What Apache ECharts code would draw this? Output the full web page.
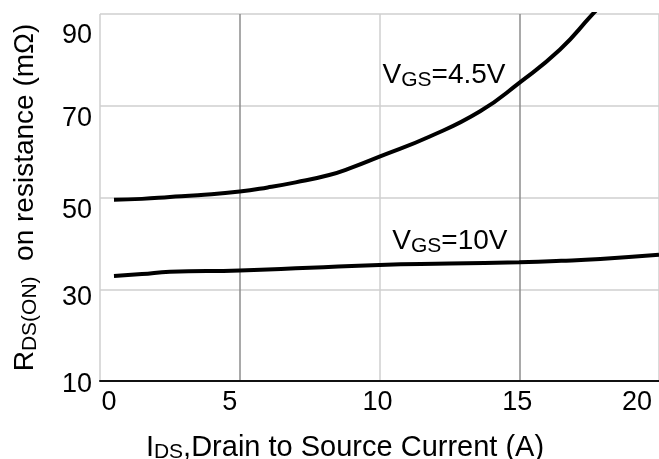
<!DOCTYPE html>
<html><head><meta charset="utf-8">
<script src="https://cdn.jsdelivr.net/npm/echarts@6/dist/echarts.min.js"></script>
<style>html,body{margin:0;padding:0;background:#fff}#c{width:659px;height:459px}</style>
</head><body><div id="c"></div>
<script>
// ---- data ----
const xTicks = [0, 5, 10, 15, 20];
const yTicks = [10, 30, 50, 70, 90];
const vgs45X = [0.5, 1.5, 2.5, 3.5, 5.0, 6.0, 7.0, 8.2, 9.0, 10.0, 11.8, 13.6, 15.0, 16.45, 17.6, 18.1];
const vgs45Y = [49.5, 49.7, 50.1, 50.5, 51.3, 52.2, 53.3, 54.9, 56.5, 58.9, 63.3, 68.8, 75.0, 82.2, 89.8, 93.0];
const vgs10X = [0.5, 1.5, 2.5, 5.0, 7.5, 10.0, 12.5, 15.0, 16.5, 17.9, 20.0];
const vgs10Y = [32.9, 33.3, 33.8, 34.1, 34.7, 35.3, 35.6, 35.9, 36.2, 36.6, 37.5];
const seriesNames = ['=4.5V', '=10V'];
const labelPos45 = [12.31, 76.7];
const labelPos10 = [12.52, 40.5];

// ---- styling ----
const FONT = '"Liberation Sans", Arial, Helvetica, sans-serif';
const yLabelPad = {10: 8, 30: 17, 50: 26, 70: 26, 90: 44};
const xLabelPad = {0: [0, 0, 0, 18], 5: [0, 20, 0, 0], 10: [0, 4, 0, 0], 15: [0, 4, 0, 0], 20: [0, 44, 0, 0]};
const yRich = {}, xRich = {};
yTicks.forEach(v => { yRich['t' + v] = {fontSize: 27, fontFamily: FONT, color: '#000', padding: [yLabelPad[v], 0, 0, 0]}; });
xTicks.forEach(v => { xRich['t' + v] = {fontSize: 27, fontFamily: FONT, color: '#000', padding: xLabelPad[v]}; });

const mainTxt = {fontSize: 28, fontFamily: FONT, color: '#000', lineHeight: 28, verticalAlign: 'top'};
const mainTitle = {fontSize: 29, fontFamily: FONT, color: '#000', lineHeight: 29, verticalAlign: 'top'};
const subTxt = {fontSize: 21, fontFamily: FONT, color: '#000', lineHeight: 20, verticalAlign: 'top', padding: [9, 0, 0, 0]};

function zip(xs, ys) { return xs.map((x, i) => [x, ys[i]]); }

function mk(pos, text) {
  return {
    symbol: 'circle', symbolSize: 1, itemStyle: {color: 'rgba(0,0,0,0)'},
    label: {show: true, position: 'inside', formatter: '{m|V}{s|GS}{m|' + text + '}', rich: {m: mainTxt, s: subTxt}},
    data: [{coord: pos}]
  };
}

const chart = echarts.init(document.getElementById('c'), null, {renderer: 'canvas'});
chart.setOption({
  animation: false,
  backgroundColor: '#fff',
  grid: {left: 100, right: 0, top: 14, bottom: 78, containLabel: false, outerBoundsMode: 'none'},
  xAxis: {
    type: 'value', min: 0, max: 20, interval: 5,
    axisLine: {show: true, lineStyle: {color: '#111', width: 2}},
    axisTick: {show: false},
    axisLabel: {margin: 8, formatter: v => '{t' + v + '|' + v + '}', rich: xRich},
    splitLine: {show: true, showMinLine: true, showMaxLine: true,
      lineStyle: {color: ['#cfcfcf', '#8c8c8c', '#cfcfcf', '#8c8c8c', '#cfcfcf'], width: 1.5}},
    name: '{m|I}{s|DS}{m|,Drain to Source Current (A)}',
    nameLocation: 'middle', nameGap: 52,
    nameTextStyle: {padding: [0, 69, 0, 0], rich: {m: mainTitle, s: subTxt}}
  },
  yAxis: {
    type: 'value', min: 10, max: 90, interval: 20,
    axisLine: {show: false},
    axisTick: {show: false},
    axisLabel: {margin: 8, formatter: v => '{t' + v + '|' + v + '}', rich: yRich},
    splitLine: {show: true, lineStyle: {color: '#cfcfcf', width: 1.5}},
    name: '{m|R}{s|DS(ON)}{m|  on resistance (mΩ)}',
    nameLocation: 'middle', nameGap: 61, nameRotate: 90,
    nameTextStyle: {rich: {m: mainTxt, s: subTxt}}
  },
  series: [
    {name: seriesNames[0], type: 'line', data: zip(vgs45X, vgs45Y), smooth: 0.5, showSymbol: false,
     lineStyle: {color: '#000', width: 4}, clip: true, markPoint: mk(labelPos45, seriesNames[0])},
    {name: seriesNames[1], type: 'line', data: zip(vgs10X, vgs10Y), smooth: 0.5, showSymbol: false,
     lineStyle: {color: '#000', width: 4}, clip: true, markPoint: mk(labelPos10, seriesNames[1])}
  ]
});
</script></body></html>
